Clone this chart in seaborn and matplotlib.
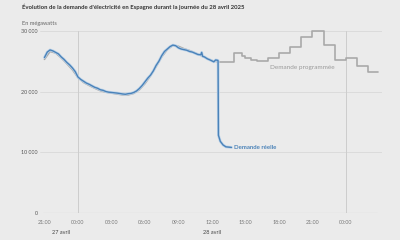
import matplotlib
matplotlib.use("Agg")
import matplotlib.pyplot as plt
import matplotlib.dates as mdates
import matplotlib.patheffects as pe
import pandas as pd
import seaborn as sns

# ---- data ----
real_times = ["2025-04-27 21:00", "2025-04-27 21:15", "2025-04-27 21:30", "2025-04-27 21:45",
              "2025-04-27 22:00", "2025-04-27 22:15", "2025-04-27 22:30", "2025-04-27 22:45",
              "2025-04-27 23:00", "2025-04-27 23:15", "2025-04-27 23:30", "2025-04-27 23:45",
              "2025-04-28 00:00", "2025-04-28 00:15", "2025-04-28 00:30", "2025-04-28 00:45",
              "2025-04-28 01:00", "2025-04-28 01:15", "2025-04-28 01:30", "2025-04-28 01:45",
              "2025-04-28 02:00", "2025-04-28 02:15", "2025-04-28 02:30", "2025-04-28 02:45",
              "2025-04-28 03:00", "2025-04-28 03:30", "2025-04-28 04:00", "2025-04-28 04:15",
              "2025-04-28 04:30", "2025-04-28 04:45", "2025-04-28 05:00", "2025-04-28 05:15",
              "2025-04-28 05:30", "2025-04-28 05:45", "2025-04-28 06:00", "2025-04-28 06:15",
              "2025-04-28 06:30", "2025-04-28 06:45", "2025-04-28 07:00", "2025-04-28 07:15",
              "2025-04-28 07:30", "2025-04-28 07:45", "2025-04-28 08:00", "2025-04-28 08:15",
              "2025-04-28 08:30", "2025-04-28 08:45", "2025-04-28 09:00", "2025-04-28 09:15",
              "2025-04-28 09:30", "2025-04-28 09:45", "2025-04-28 10:00", "2025-04-28 10:15",
              "2025-04-28 10:30", "2025-04-28 10:45", "2025-04-28 11:00", "2025-04-28 11:05",
              "2025-04-28 11:10", "2025-04-28 11:20", "2025-04-28 11:35", "2025-04-28 11:50",
              "2025-04-28 12:00", "2025-04-28 12:10", "2025-04-28 12:20", "2025-04-28 12:30",
              "2025-04-28 12:33", "2025-04-28 12:35", "2025-04-28 12:45", "2025-04-28 13:00",
              "2025-04-28 13:15", "2025-04-28 13:45"]
real_values = [25600, 26500, 26850, 26700,
               26450, 26200, 25700, 25300,
               24800, 24400, 23900, 23300,
               22400, 22000, 21700, 21400,
               21200, 20950, 20700, 20550,
               20300, 20200, 20000, 19900,
               19850, 19750, 19600, 19550,
               19650, 19700, 19850, 20100,
               20500, 21000, 21600, 22200,
               22700, 23400, 24300, 25000,
               25900, 26600, 27000, 27400,
               27650, 27550, 27200, 27000,
               26900, 26800, 26600, 26500,
               26300, 26100, 26050, 26450,
               25800, 25700, 25400, 25200,
               25050, 24900, 25200, 25150,
               25100, 12800, 11800, 11200,
               10900, 10800]

# programmed demand, before the blackout (follows the real curve closely)
prog_past_times = ["2025-04-27 21:00", "2025-04-27 21:30", "2025-04-27 22:00", "2025-04-27 22:30",
                   "2025-04-27 23:00", "2025-04-27 23:30", "2025-04-28 00:00", "2025-04-28 00:30",
                   "2025-04-28 01:00", "2025-04-28 01:30", "2025-04-28 02:00", "2025-04-28 02:30",
                   "2025-04-28 03:00", "2025-04-28 03:30", "2025-04-28 04:00", "2025-04-28 04:30",
                   "2025-04-28 05:00", "2025-04-28 05:30", "2025-04-28 06:00", "2025-04-28 06:30",
                   "2025-04-28 07:00", "2025-04-28 07:30", "2025-04-28 08:00", "2025-04-28 08:30",
                   "2025-04-28 09:00", "2025-04-28 09:30", "2025-04-28 10:00", "2025-04-28 10:30",
                   "2025-04-28 11:00", "2025-04-28 11:30", "2025-04-28 12:00", "2025-04-28 12:30"]
prog_past_values = [25300, 26600, 26350, 25550,
                    24600, 23600, 22300, 21500,
                    21000, 20550, 20150, 19900,
                    19750, 19600, 19450, 19450,
                    19700, 20300, 21300, 22600,
                    24100, 25700, 26900, 27600,
                    27450, 27050, 26750, 26350,
                    25950, 25500, 25100, 24900]

# programmed demand, after the blackout (hourly / quarter-hourly steps)
prog_next_times = ["2025-04-28 12:30", "2025-04-28 14:00", "2025-04-28 14:40", "2025-04-28 15:00",
                   "2025-04-28 15:30", "2025-04-28 16:00", "2025-04-28 17:00", "2025-04-28 18:00",
                   "2025-04-28 19:00", "2025-04-28 20:00", "2025-04-28 21:00", "2025-04-28 22:00",
                   "2025-04-28 23:00", "2025-04-29 00:00", "2025-04-29 01:00", "2025-04-29 02:00",
                   "2025-04-29 02:50"]
prog_next_values = [24900, 26300, 25900, 25480,
                    25200, 25030, 25480, 26430,
                    27340, 29040, 29980, 27670,
                    25200, 25480, 24260, 23270,
                    23270]

y_ticks = [0, 10000, 20000, 30000]
y_tick_labels = ["0", "10 000", "20 000", "30 000"]
day_labels = ["27 avril", "28 avril"]
day_label_times = ["2025-04-27 22:30", "2025-04-28 12:00"]

title_text = "Évolution de la demande d'électricité en Espagne durant la journée du 28 avril 2025"
unit_text = "En mégawatts"
label_prog = "Demande programmée"
label_real = "Demande réelle"

# ---- styling ----
BG = "#ebebeb"
BLUE = "#4a82b8"
GREY = "#a9a9a9"

sns.set_style("white", {"axes.facecolor": BG, "figure.facecolor": BG})
plt.rcParams["font.family"] = ["Lato", "DejaVu Sans"]

real_df = pd.DataFrame({"t": pd.to_datetime(real_times), "v": real_values})
prog_past_df = pd.DataFrame({"t": pd.to_datetime(prog_past_times), "v": prog_past_values})
prog_next_df = pd.DataFrame({"t": pd.to_datetime(prog_next_times), "v": prog_next_values})

fig = plt.figure(figsize=(4.0, 2.4), dpi=100)
ax = fig.add_axes([0.10, 0.1125, 0.855, 0.7717])
ax.set_facecolor(BG)

x0 = pd.Timestamp("2025-04-27 20:36")
x1 = pd.Timestamp("2025-04-29 03:14")
ax.set_xlim(x0, x1)
ax.set_ylim(0, 30500)

# grid
for yv in y_ticks[1:]:
    ax.axhline(yv, color="#d9d9d9", lw=0.6, zorder=0)
for mid in ["2025-04-28 00:00", "2025-04-29 00:00"]:
    ax.axvline(pd.Timestamp(mid), ymin=0, ymax=30000 / 30500, color="#cdcdcd", lw=0.7, zorder=0)
ax.axhline(0, xmin=0.009, xmax=0.985, color="#c6c6c6", lw=0.8, zorder=1)

sns.lineplot(data=prog_past_df, x="t", y="v", ax=ax, color=GREY, lw=1.2, zorder=2)
sns.lineplot(data=prog_next_df, x="t", y="v", ax=ax, color=GREY, lw=1.2,
             drawstyle="steps-post", zorder=2)
sns.lineplot(data=real_df, x="t", y="v", ax=ax, color=BLUE, lw=1.0, zorder=3,
             path_effects=[pe.Stroke(linewidth=2.0, foreground="#bcd3ea"), pe.Normal()])

for s in ax.spines.values():
    s.set_visible(False)

ax.set_xlabel("")
ax.set_ylabel("")
ax.set_yticks(y_ticks)
ax.set_yticklabels(y_tick_labels)
ax.tick_params(axis="y", length=0, pad=1.5, labelsize=3.9, labelcolor="#555555")

ax.set_xticks(pd.date_range("2025-04-27 21:00", "2025-04-29 00:00", freq="3h"))
ax.xaxis.set_major_formatter(mdates.DateFormatter("%H:%M"))
ax.tick_params(axis="x", length=1.5, width=0.5, color="#bbbbbb", pad=3.5,
               labelsize=3.9, labelcolor="#777777")

trans = matplotlib.transforms.blended_transform_factory(ax.transData, fig.transFigure)
for lab, tt in zip(day_labels, day_label_times):
    ax.text(pd.Timestamp(tt), 1 - 233 / 240, lab, transform=trans, ha="center", va="center",
            fontsize=4.0, color="#444444")

ax.text(pd.Timestamp("2025-04-28 20:05"), 23900, label_prog, ha="center", va="center",
        fontsize=4.6, color="#9a9a9a")
ax.text(pd.Timestamp("2025-04-28 13:56"), 10750, label_real, ha="left", va="center",
        fontsize=4.3, color=BLUE, fontweight="bold")

fig.text(22 / 400, 1 - 7 / 240, title_text, ha="left", va="center", fontsize=4.3,
         color="#333333", fontweight="bold")
fig.text(22 / 400, 1 - 23 / 240, unit_text, ha="left", va="center", fontsize=4.1,
         color="#666666")

fig.savefig("out.png", dpi=100, facecolor=BG)
